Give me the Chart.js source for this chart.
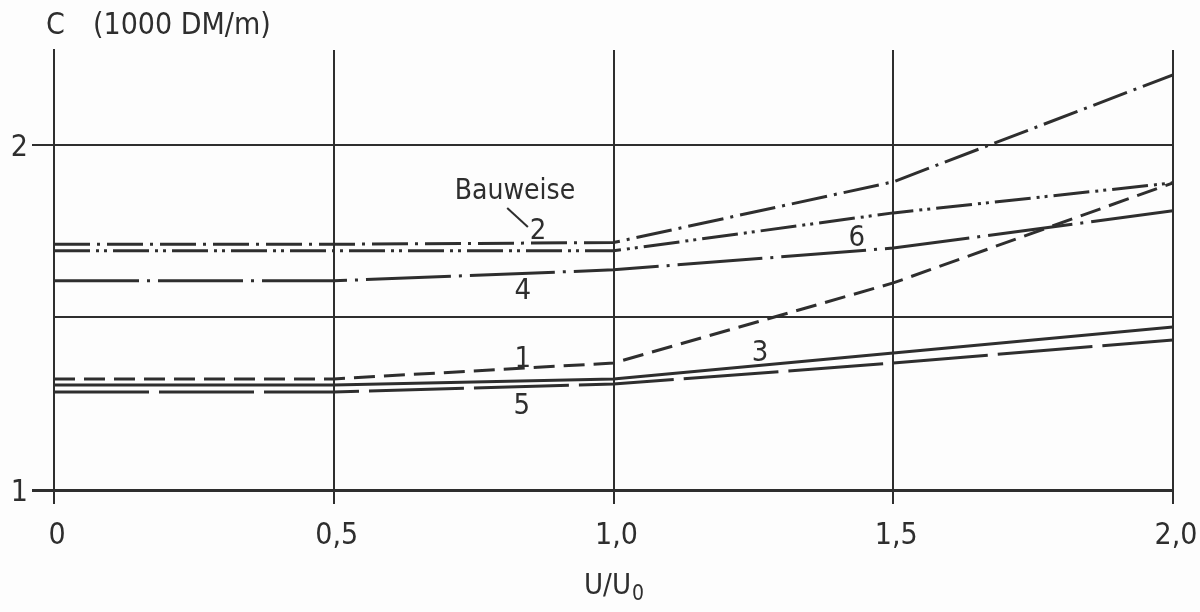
<!DOCTYPE html>
<html>
<head>
<meta charset="utf-8">
<script src="https://cdn.jsdelivr.net/npm/chart.js@4/dist/chart.umd.min.js"></script>
<style>
  html, body { margin: 0; padding: 0; background: #fdfdfd; }
  canvas { display: block; }
</style>
</head>
<body>
<canvas id="chart" width="1200" height="612"></canvas>
<script>
// U/U0 steps on the x axis
const ratios = [0, 0.5, 1.0, 1.5, 2.0];

// C (1000 DM/m) for each Bauweise
const bauweise1 = [1.322, 1.322, 1.368, 1.600, 1.890];
const bauweise2 = [1.712, 1.712, 1.717, 1.893, 2.203];
const bauweise3 = [1.304, 1.304, 1.322, 1.397, 1.472];
const bauweise4 = [1.606, 1.606, 1.638, 1.701, 1.809];
const bauweise5 = [1.284, 1.284, 1.307, 1.368, 1.435];
const bauweise6 = [1.693, 1.693, 1.693, 1.803, 1.890];

const xTicks = [0, 0.5, 1.0, 1.5, 2.0];
const yTicks = [1, 1.5, 2];

const INK = '#2e2e2e';
const FONT = "'Liberation Sans Narrow', 'DejaVu Sans Condensed', 'DejaVu Sans', sans-serif";

// where the curve numbers sit (data coords)
const seriesLabels = [
  { text: '2', x: 0.865, y: 1.748 },
  { text: '4', x: 0.838, y: 1.574 },
  { text: '1', x: 0.838, y: 1.377 },
  { text: '5', x: 0.836, y: 1.241 },
  { text: '3', x: 1.262, y: 1.397 },
  { text: '6', x: 1.435, y: 1.730 }
];

function series(label, values, dash) {
  return {
    label: label,
    data: ratios.map((r, i) => ({ x: r, y: values[i] })),
    borderColor: INK,
    borderWidth: 3,
    borderDash: dash,
    pointRadius: 0,
    tension: 0,
    fill: false
  };
}

const bgPlugin = {
  id: 'bg',
  beforeDraw(chart) {
    const ctx = chart.ctx;
    ctx.save();
    ctx.fillStyle = '#fdfdfd';
    ctx.fillRect(0, 0, chart.width, chart.height);
    ctx.restore();
  }
};

const notesPlugin = {
  id: 'notes',
  afterDraw(chart) {
    const ctx = chart.ctx;
    const xs = chart.scales.x;
    const ys = chart.scales.y;
    ctx.save();
    ctx.fillStyle = INK;
    ctx.strokeStyle = INK;
    ctx.textBaseline = 'middle';

    // curve numbers
    ctx.textAlign = 'center';
    ctx.font = '29px ' + FONT;
    seriesLabels.forEach(l => {
      ctx.fillText(l.text, xs.getPixelForValue(l.x), ys.getPixelForValue(l.y));
    });

    // "Bauweise" with leader to curve 2
    ctx.font = '28px ' + FONT;
    ctx.fillText('Bauweise', xs.getPixelForValue(0.824), ys.getPixelForValue(1.864));
    ctx.lineWidth = 2;
    ctx.beginPath();
    ctx.moveTo(xs.getPixelForValue(0.81), ys.getPixelForValue(1.817));
    ctx.lineTo(xs.getPixelForValue(0.847), ys.getPixelForValue(1.762));
    ctx.stroke();

    // y axis title
    ctx.textAlign = 'left';
    ctx.font = '30px ' + FONT;
    ctx.fillText('C', 46, 26);
    ctx.fillText('(1000 DM/m)', 93, 26);

    // x axis title U/U0
    ctx.font = '29px ' + FONT;
    const base = 'U/U';
    const w = ctx.measureText(base).width;
    const x0 = xs.getPixelForValue(1.0) - w / 2 - 6;
    ctx.fillText(base, x0, 586);
    ctx.font = '21px ' + FONT;
    ctx.fillText('0', x0 + w + 1, 595);
    ctx.restore();
  }
};

new Chart(document.getElementById('chart'), {
  type: 'line',
  data: {
    datasets: [
      series('Bauweise 1', bauweise1, [21, 9]),
      series('Bauweise 2', bauweise2, [36, 7, 3, 7]),
      series('Bauweise 3', bauweise3, []),
      series('Bauweise 4', bauweise4, [85, 8, 3, 8]),
      series('Bauweise 5', bauweise5, [95, 10]),
      series('Bauweise 6', bauweise6, [36, 6, 3, 5, 3, 6])
    ]
  },
  options: {
    responsive: false,
    animation: false,
    layout: { padding: { top: 50, right: 27, bottom: 0, left: 0 } },
    plugins: {
      legend: { display: false },
      tooltip: { enabled: false }
    },
    scales: {
      x: {
        type: 'linear',
        min: 0,
        max: 2,
        afterBuildTicks: s => { s.ticks = xTicks.map(v => ({ value: v })); },
        afterFit: s => { s.height = 122; s.paddingLeft = 0; s.paddingRight = 0; },
        ticks: {
          color: INK,
          padding: 14,
          maxRotation: 0,
          labelOffset: 3,
          font: { family: FONT, size: 30 },
          callback: v => v === 0 ? '0' : v.toFixed(1).replace('.', ',')
        },
        grid: { color: INK, lineWidth: 2, tickLength: 14, tickColor: INK },
        border: { color: INK, width: 3 }
      },
      y: {
        type: 'linear',
        min: 1,
        max: 2.275,
        afterBuildTicks: s => { s.ticks = yTicks.map(v => ({ value: v })); },
        afterFit: s => { s.width = 54; s.paddingTop = 0; s.paddingBottom = 0; },
        ticks: {
          color: INK,
          padding: 4,
          labelOffset: 3,
          font: { family: FONT, size: 30 },
          callback: v => v === 1.5 ? '' : String(v)
        },
        grid: {
          color: INK,
          lineWidth: c => (c.tick && c.tick.value === 1) ? 3 : 2,
          tickLength: 22,
          tickColor: c => (c.tick && c.tick.value === 1.5) ? 'rgba(0,0,0,0)' : INK
        },
        border: { color: INK, width: 2 }
      }
    }
  },
  plugins: [bgPlugin, notesPlugin]
});
</script>
</body>
</html>
